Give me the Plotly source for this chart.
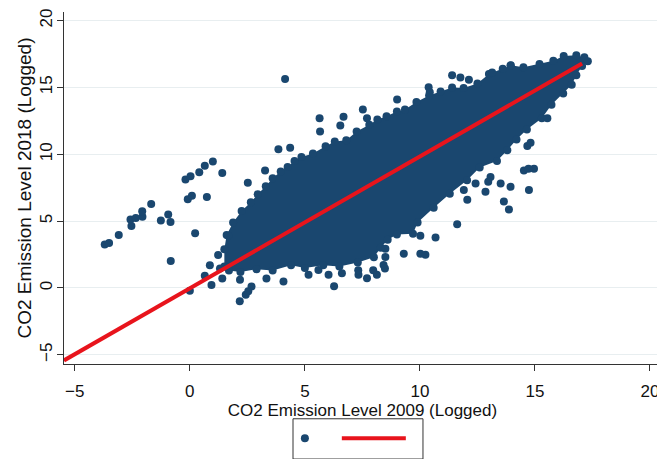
import plotly.graph_objects as go

# ---- data ----
# outline of the dense (fully overplotted) part of the point cloud, traced clockwise
cloud_x = [1.50, 1.50, 1.60, 1.88, 2.25, 2.65, 2.95, 3.30, 3.60, 3.95, 4.25, 4.55, 4.85, 5.35,
           5.90, 6.30, 6.80, 7.25, 7.80, 8.15, 8.55, 9.00, 9.35, 9.85, 10.40, 10.90, 11.40, 11.90,
           12.50, 13.00, 13.60, 13.95, 14.50, 15.20, 15.80, 16.25, 16.80, 17.15, 17.30,
           17.05, 16.80, 16.60, 16.23, 15.72, 15.30, 14.65, 14.20, 13.80, 13.35, 12.60, 12.05,
           11.30, 10.60, 9.90, 9.70, 9.00, 8.60, 8.30, 8.00, 7.30, 6.50, 5.80, 5.00, 4.40, 3.60,
           2.90, 2.20, 1.70]
cloud_y = [1.60, 2.90, 3.95, 4.90, 5.75, 6.40, 7.00, 7.60, 8.20, 8.70, 9.05, 9.50, 9.80, 10.05,
           10.60, 10.95, 11.05, 11.70, 12.20, 12.60, 12.85, 13.20, 13.35, 13.90, 14.40, 14.70, 15.00, 14.95,
           15.30, 16.00, 16.40, 16.65, 16.50, 16.75, 17.00, 17.35, 17.40, 17.25, 16.95,
           16.60, 15.90, 15.20, 14.55, 13.70, 12.70, 11.85, 11.10, 10.30, 9.50, 9.00, 8.05,
           7.05, 6.00, 4.90, 4.05, 4.00, 3.60, 3.00, 2.30, 1.90, 1.60, 1.70, 1.50, 1.70, 1.30,
           1.40, 1.20, 1.30]

# individual points lying outside the dense cloud
out_x = [-3.70, -3.51, -3.09, -2.54, -2.58, -2.35, -2.06, -2.07, -1.68, -1.26, -0.94, -0.84,
         -0.09, 0.09, 0.74, -0.19, 0.03, 0.41, 0.65, 1.00, 1.41, 2.52, 0.23, -0.83, 0.00, 0.94,
         0.65, 0.87, 1.23, 1.41, 2.17, 2.43, 2.68, 1.67, 2.54, 1.31, 2.18,
         4.14, 5.64, 5.66, 6.68, 6.54, 7.52, 7.70, 9.01, 10.38, 10.43, 11.40, 11.76, 12.13,
         13.14, 13.94, 3.85, 4.36, 3.27,
         4.07, 5.16, 5.59, 6.03, 6.27, 6.61, 7.33, 7.70, 8.13, 8.42, 8.50, 8.50, 8.48, 9.30,
         10.02, 10.24, 10.68, 11.62, 12.06, 12.85, 13.65, 13.87, 14.74, 14.52, 14.96, 14.72,
         13.94, 14.67, 14.81, 13.51, 13.07, 12.42, 11.91, 12.97, 10.02, 15.54, 7.32, 7.97, 3.33]
out_y = [3.24, 3.36, 3.95, 4.63, 5.12, 5.24, 5.32, 5.74, 6.27, 5.05, 5.49, 4.93,
         6.64, 6.89, 6.81, 8.11, 8.36, 8.65, 9.14, 9.46, 8.60, 7.87, 4.09, 2.01, -0.22, 0.22,
         0.91, 1.69, 2.47, 0.71, -1.00, -0.51, 0.10, 3.90, -0.24, 1.46, 0.61,
         15.62, 12.69, 11.71, 12.81, 12.15, 13.35, 12.69, 14.10, 15.01, 14.64, 15.91, 15.74, 15.57,
         16.11, 16.64, 10.37, 10.49, 8.78,
         0.49, 0.98, 1.34, 0.98, 0.12, 1.10, 0.98, 0.73, 0.98, 1.71, 2.32, 2.93, 1.45, 2.56,
         2.56, 2.49, 3.78, 4.76, 6.59, 7.20, 6.47, 5.86, 7.32, 8.78, 8.91, 8.92,
         7.56, 10.61, 10.86, 7.81, 8.30, 7.81, 7.32, 7.94, 3.90, 12.69, 1.32, 1.32, 0.71]

# fitted line end points
fit_x = [-5.47, 17.05]
fit_y = [-5.42, 16.78]

x_ticks = [-5, 0, 5, 10, 15, 20]
y_ticks = [-5, 0, 5, 10, 15, 20]
x_title = "CO2 Emission Level 2009 (Logged)"
y_title = "CO2 Emission Level 2018 (Logged)"

NAVY = "#1a476f"
RED = "#e8141c"
FONT = "Liberation Sans, Arial, sans-serif"

fig = go.Figure()
fig.add_trace(go.Scatter(x=cloud_x, y=cloud_y, mode="lines", fill="toself",
                         fillcolor=NAVY, line=dict(width=0, color=NAVY),
                         showlegend=False, hoverinfo="skip"))
fig.add_trace(go.Scatter(x=cloud_x + out_x, y=cloud_y + out_y, mode="markers",
                         marker=dict(size=8, color=NAVY, line=dict(width=0)),
                         name="", legend="legend"))
fig.add_trace(go.Scatter(x=fit_x, y=fit_y, mode="lines",
                         line=dict(color=RED, width=4), name="", legend="legend2"))

# the page body adds an 8px margin, so the figure is 8px smaller than the window
fig.update_layout(
    width=657, height=451,
    margin=dict(l=56, r=4, t=4, b=87),
    plot_bgcolor="white", paper_bgcolor="white",
    font=dict(family=FONT, color="#111", size=16),
    xaxis=dict(range=[-5.47, 20.48], tickvals=x_ticks, showgrid=False, zeroline=False,
               automargin=False,
               showline=True, linecolor="#333", linewidth=1, ticks="outside", ticklen=6,
               tickcolor="#333", tickfont=dict(size=17), ticklabelstandoff=6,
               title=dict(text=x_title, font=dict(size=17), standoff=0)),
    yaxis=dict(range=[-5.69, 20.64], tickvals=y_ticks, tickangle=-90, showgrid=True,
               automargin=False,
               gridcolor="#e8eef0", gridwidth=1, zeroline=False,
               showline=True, linecolor="#333", linewidth=1, ticks="outside", ticklen=6,
               tickcolor="#333", tickfont=dict(size=17), ticklabelstandoff=-2,
               title=dict(text=y_title, font=dict(size=19), standoff=0)),
    legend=dict(orientation="h", x=0.37, xanchor="left", y=-0.211, yanchor="middle",
                borderwidth=0, bgcolor="rgba(0,0,0,0)", font=dict(size=16), itemwidth=30),
    legend2=dict(orientation="h", x=0.457, xanchor="left", y=-0.211, yanchor="middle",
                 borderwidth=0, bgcolor="rgba(0,0,0,0)", font=dict(size=16), itemwidth=64),
    shapes=[dict(type="rect", xref="paper", yref="paper", x0=0.3836, x1=0.6013,
                 y0=-0.27, y1=-0.1556, line=dict(color="#333", width=1),
                 fillcolor="rgba(0,0,0,0)", layer="above")],
)

fig.write_html("out.html")
